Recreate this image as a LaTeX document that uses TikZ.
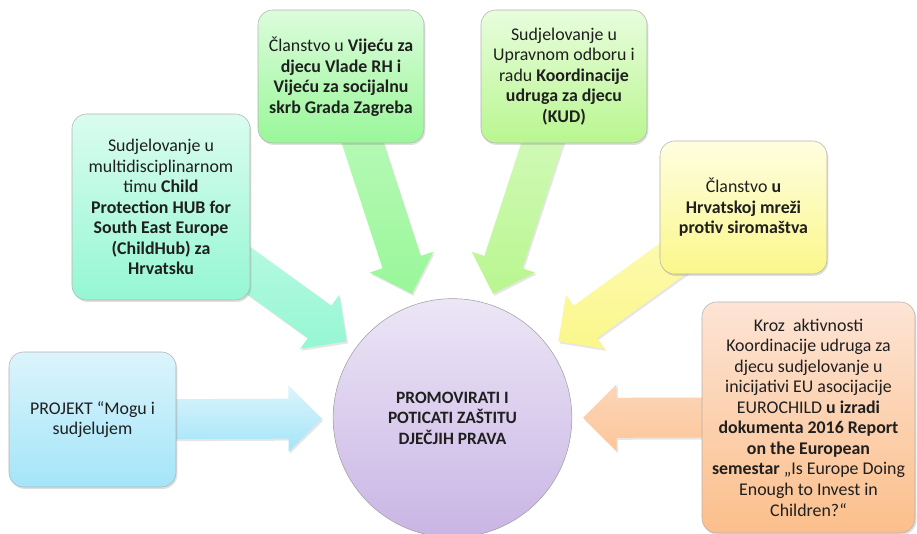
\documentclass[tikz,border=0pt]{standalone}
\usepackage{fontspec}
\setmainfont{Carlito}
\usetikzlibrary{calc,shadows,backgrounds}

\definecolor{blueT}{HTML}{DCF4FC}
\definecolor{blueB}{HTML}{A3E5F8}
\definecolor{tealT}{HTML}{DAFCEF}
\definecolor{tealB}{HTML}{95F7D3}
\definecolor{greenT}{HTML}{DCFCDC}
\definecolor{greenB}{HTML}{99F799}
\definecolor{limeT}{HTML}{E8FDDD}
\definecolor{limeB}{HTML}{B9F690}
\definecolor{yellowT}{HTML}{FEFEE0}
\definecolor{yellowB}{HTML}{FBF78B}
\definecolor{peachT}{HTML}{FDE4D5}
\definecolor{peachB}{HTML}{FBBF8B}
\definecolor{lilacT}{HTML}{ECE6F6}
\definecolor{lilacB}{HTML}{C9B5E5}

\tikzset{
  box/.style={draw=gray!60, rounded corners=11pt, align=center, inner sep=3pt,
    text=black!88, font=\fontsize{13.4}{15.4}\selectfont,
    drop shadow={shadow xshift=1pt, shadow yshift=-1.5pt, opacity=0.25}},
  goal/.style={circle, draw=gray!75, minimum size=179pt, inner sep=0pt, align=center,
    text=black!88, font=\fontsize{13}{15.4}\selectfont\bfseries}
}

\newcommand{\blockarrow}[3]{
  \coordinate (#1tip) at ($(circ.center)!98pt!(#1.center)$);
  \coordinate (#1neck) at ($(#1tip)!25pt!(#1.center)$);
  \shade[top color=#2, bottom color=#3, drop shadow={shadow xshift=1pt, shadow yshift=-1.5pt, opacity=0.2}]
    ($(#1.center)!15pt!90:(#1tip)$) -- ($(#1neck)!15pt!90:(#1tip)$) -- ($(#1neck)!25pt!90:(#1tip)$)
    -- (#1tip) -- ($(#1neck)!25pt!-90:(#1tip)$) -- ($(#1neck)!15pt!-90:(#1tip)$)
    -- ($(#1.center)!15pt!-90:(#1tip)$) -- cycle;
}

\begin{document}
\begin{tikzpicture}[x=0.75pt,y=-0.75pt]
 \useasboundingbox (0,0) rectangle (917,534);

 \node[box, minimum width=125.25pt, minimum height=101.25pt, top color=blueT, bottom color=blueB]
   (b1) at (92.5,419.5) {PROJEKT “Mogu i\\sudjelujem};
 \node[box, minimum width=133.5pt, minimum height=139.5pt, top color=tealT, bottom color=tealB]
   (b2) at (161,207) {Sudjelovanje u\\multidisciplinarnom\\timu \textbf{Child}\\\textbf{Protection HUB for}\\\textbf{South East Europe}\\\textbf{(ChildHub) za}\\\textbf{Hrvatsku}};
 \node[box, minimum width=124.5pt, minimum height=99.75pt, top color=greenT, bottom color=greenB]
   (b3) at (341,76.5) {Članstvo u \textbf{Vijeću za}\\\textbf{djecu Vlade RH i}\\\textbf{Vijeću za socijalnu}\\\textbf{skrb Grada Zagreba}};
 \node[box, minimum width=124.5pt, minimum height=99.75pt, top color=limeT, bottom color=limeB]
   (b4) at (564,76.5) {Sudjelovanje u\\Upravnom odboru i\\radu \textbf{Koordinacije}\\\textbf{udruga za djecu}\\\textbf{(KUD)}};
 \node[box, minimum width=125.25pt, minimum height=99.75pt, top color=yellowT, bottom color=yellowB]
   (b5) at (743.5,207.5) {Članstvo \textbf{u}\\\textbf{Hrvatskoj mreži}\\\textbf{protiv siromaštva}};
 \node[box, minimum width=159.75pt, minimum height=173.25pt, top color=peachT, bottom color=peachB]
   (b6) at (808.5,417.5) {Kroz~ aktivnosti\\Koordinacije udruga za\\djecu sudjelovanje u\\inicijativi EU asocijacije\\EUROCHILD \textbf{u izradi}\\\textbf{dokumenta 2016 Report}\\\textbf{on the European}\\\textbf{semestar} „Is Europe Doing\\Enough to Invest in\\Children?“};

 \node[goal, top color=lilacT, bottom color=lilacB] (circ) at (452.5,418)
   {PROMOVIRATI I\\POTICATI ZAŠTITU\\DJEČJIH PRAVA};

 \begin{scope}[on background layer]
  \blockarrow{b1}{blueT}{blueB}
  \blockarrow{b2}{tealT!70!tealB}{tealB}
  \blockarrow{b3}{greenT!60!greenB}{greenB}
  \blockarrow{b4}{limeT!70!limeB}{limeB}
  \blockarrow{b5}{yellowT!60!yellowB}{yellowB}
  \blockarrow{b6}{peachT!60!peachB}{peachB!80!peachT}
 \end{scope}
\end{tikzpicture}
\end{document}
